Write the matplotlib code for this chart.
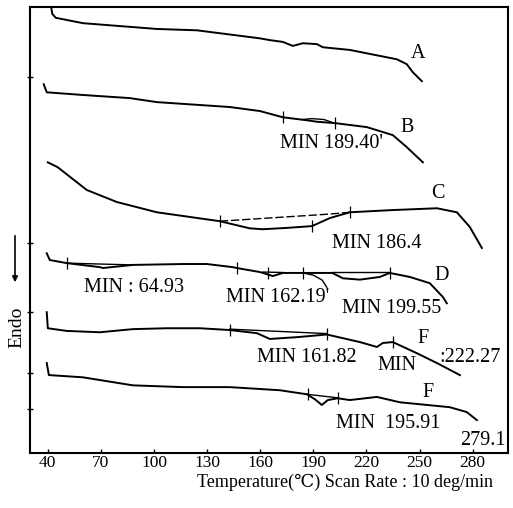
import matplotlib
matplotlib.use("Agg")
import matplotlib.pyplot as plt

plt.rcParams['font.family'] = ['Liberation Serif', 'DejaVu Serif']

# ---- data (temperature in deg C, signal in arbitrary units) ----
A_T = [42.0, 42.5, 44.5, 59.8, 101.6, 124.2, 159.8, 165.4, 172.8, 178.4, 184.1, 192.0, 195.4, 210.6, 237.2, 242.8, 246.2, 251.3]
A_v = [99.8, 98.5, 97.6, 96.4, 95.1, 94.8, 93.0, 92.6, 92.2, 91.3, 91.9, 91.7, 91.0, 90.4, 88.3, 87.2, 85.4, 83.4]

B_T = [37.7, 39.4, 59.8, 86.3, 101.6, 142.8, 159.8, 172.8, 186.9, 192.0, 202.1, 220.2, 234.9, 242.8, 251.9]
B_v = [82.7, 80.9, 80.3, 79.6, 78.7, 77.6, 76.7, 75.3, 74.6, 74.3, 74.0, 73.1, 71.3, 68.6, 65.2]
B_loop_T = [184.0, 189.0, 196.0, 201.0]
B_loop_v = [74.8, 75.0, 74.8, 74.1]
B_tick_T = [172.8, 202.1]
B_tick_v = [75.3, 74.0]

C_T = [40.0, 45.6, 62.0, 79.0, 101.6, 137.2, 154.1, 161.5, 175.0, 189.2, 199.3, 210.6, 234.9, 259.8, 271.1, 278.4, 285.2]
C_v = [65.2, 64.1, 59.0, 56.3, 54.0, 52.0, 50.4, 50.2, 50.5, 50.9, 52.7, 54.0, 54.5, 54.9, 54.0, 50.7, 46.0]
C_base_T = [137.2, 199.3, 210.6]
C_base_v = [52.0, 53.6, 54.0]
C_tick_T = [137.2, 189.2, 210.6]
C_tick_v = [52.0, 50.9, 54.0]

D_T = [39.4, 41.1, 50.7, 69.4, 71.1, 88.0, 116.3, 129.8, 144.5, 146.8, 159.8, 161.5, 167.1, 172.8, 184.1, 200.7, 206.7, 216.3, 227.6, 233.2, 244.5, 255.8, 263.2, 265.4]
D_v = [44.8, 43.3, 42.6, 41.7, 41.5, 42.2, 42.4, 42.4, 41.7, 41.5, 40.6, 40.4, 39.7, 40.4, 40.4, 40.4, 39.2, 38.9, 39.5, 40.4, 39.5, 38.1, 35.0, 33.6]
D_base1_T = [50.7, 88.0]
D_base1_v = [42.6, 42.2]
D_base2_T = [161.5, 172.8]
D_base2_v = [40.6, 40.5]
D_base3_T = [200.7, 233.2]
D_base3_v = [40.5, 40.5]
D_branch_T = [184.1, 190.0, 195.0, 197.6]
D_branch_v = [40.4, 39.9, 38.8, 37.2]
D_tick_T = [50.7, 146.8, 164.3, 184.1, 233.2]
D_tick_v = [42.6, 41.5, 40.4, 40.4, 40.4]

E_T = [39.4, 40.0, 50.7, 69.4, 88.0, 107.2, 125.9, 142.8, 158.1, 165.4, 180.7, 197.6, 216.3, 225.9, 229.3, 234.9, 248.5, 259.8, 272.8]
E_v = [31.6, 28.0, 27.4, 27.1, 27.8, 28.0, 28.0, 27.6, 26.9, 25.6, 26.0, 26.6, 24.9, 23.8, 24.7, 24.9, 22.4, 20.2, 17.5]
E_base_T = [142.8, 197.6]
E_base_v = [27.8, 26.8]
E_tick_T = [142.8, 197.6, 234.9]
E_tick_v = [27.7, 26.7, 24.9]

F_T = [39.4, 40.6, 59.8, 88.0, 116.3, 142.8, 171.1, 186.3, 190.8, 194.8, 198.2, 203.8, 210.6, 225.9, 238.9, 267.1, 276.7, 282.4]
F_v = [20.2, 17.5, 17.0, 15.2, 14.8, 14.8, 14.1, 13.2, 12.1, 10.8, 11.9, 12.3, 11.9, 12.6, 11.4, 10.3, 9.2, 7.4]
F_base_T = [186.3, 203.8]
F_base_v = [13.2, 12.4]
F_tick_T = [186.9, 203.8]
F_tick_v = [13.2, 12.4]

side_ticks = [84.3, 47.1, 31.6, 17.9, 9.9]
x_ticks = [40, 70, 100, 130, 160, 190, 220, 250, 280]

labels = [
    ("A", 249.0, 89.7), ("B", 242.8, 72.9), ("MIN 189.40'", 200.5, 69.5),
    ("C", 260.3, 58.3), ("MIN 186.4", 225.9, 47.1),
    ("D", 262.6, 39.9), ("MIN : 64.93", 88.6, 37.2), ("MIN 162.19'", 169.9, 35.0),
    ("MIN 199.55", 234.4, 32.5),
    ("F", 251.9, 25.8), ("MIN 161.82", 186.3, 21.5), ("MIN", 237.2, 19.7), (":222.27", 278.4, 21.5),
    ("F", 254.7, 13.7), ("MIN  195.91", 232.1, 6.7), ("279.1", 285.8, 2.9),
]

fig = plt.figure(figsize=(5.13, 5.08), dpi=100)
ax = fig.add_axes([0.058, 0.108, 0.932, 0.878])
lw = 1.4
for T, v in [(A_T, A_v), (B_T, B_v), (C_T, C_v), (D_T, D_v), (E_T, E_v), (F_T, F_v)]:
    ax.plot(T, v, color='black', lw=lw)
for T, v in [(B_loop_T, B_loop_v), (D_base1_T, D_base1_v), (D_base2_T, D_base2_v),
             (D_base3_T, D_base3_v), (D_branch_T, D_branch_v),
             (E_base_T, E_base_v), (F_base_T, F_base_v)]:
    ax.plot(T, v, color='black', lw=1.0)
ax.plot(C_base_T, C_base_v, color='black', lw=1.0, ls=(0, (6, 2)))
for T, v in [(B_tick_T, B_tick_v), (C_tick_T, C_tick_v), (D_tick_T, D_tick_v),
             (E_tick_T, E_tick_v), (F_tick_T, F_tick_v)]:
    ax.plot(T, v, ls='none', marker='|', ms=9, mew=0.9, color='black')

for txt, x, y in labels:
    ax.text(x, y, txt, ha='center', va='center', fontsize=14.5, color='black')

ax.set_xlim(29.8, 299.9)
ax.set_ylim(0, 100)
ax.set_xticks(x_ticks)
ax.set_xticklabels([str(t) for t in x_ticks], fontsize=12.5)
ax.set_yticks(side_ticks)
ax.set_yticklabels([])
ax.tick_params(axis='x', direction='in', length=3, width=1, pad=1.5)
ax.tick_params(axis='y', direction='inout', length=5, width=1)
for s in ax.spines.values():
    s.set_linewidth(1.5)

fig.text(0.672, 1 - 482 / 508, "Temperature(\u2103) Scan Rate : 10 deg/min", ha='center', va='center', fontsize=13)
fig.text(17 / 513, 1 - 327 / 508, "Endo", rotation=90, ha='center', va='center', fontsize=14)
fig.add_artist(matplotlib.patches.FancyArrowPatch((15 / 513, 1 - 233 / 508), (15 / 513, 1 - 285 / 508),
                                                  transform=fig.transFigure, arrowstyle='-|>', mutation_scale=8,
                                                  color='black', lw=1.2))

fig.savefig("out.png", dpi=100)
